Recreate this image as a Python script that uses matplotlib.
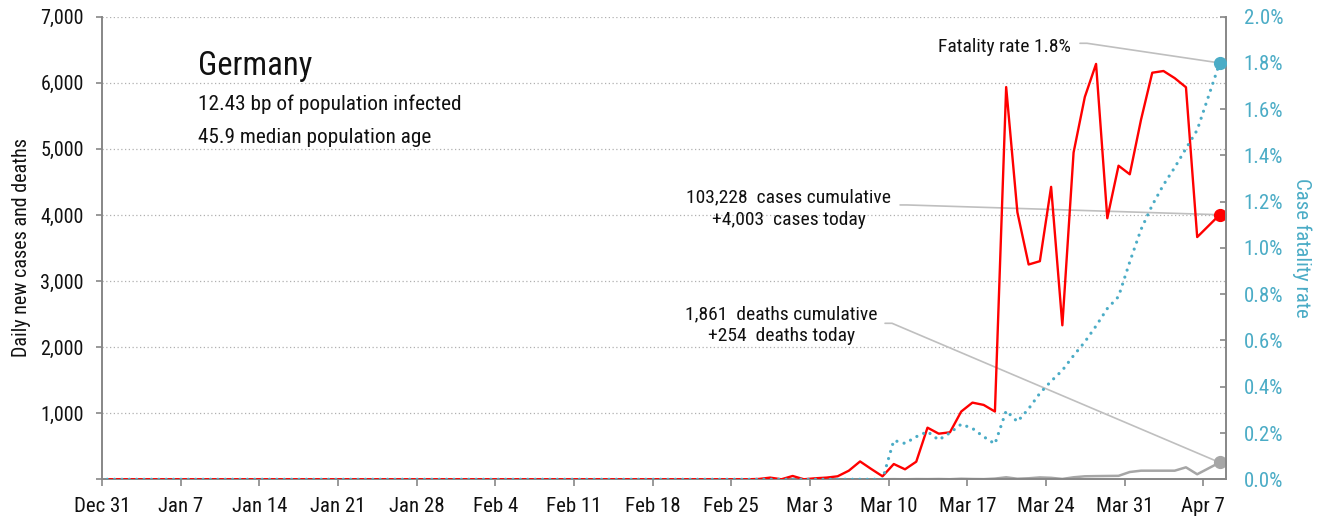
import pandas as pd
import matplotlib
matplotlib.use('Agg')
import matplotlib.pyplot as plt
from matplotlib import font_manager

# pick a narrow sans if one is installed
installed = {f.name for f in font_manager.fontManager.ttflist}
family = 'DejaVu Sans'
for cand in ['Roboto Condensed', 'Liberation Sans Narrow', 'Open Sans Condensed']:
    if cand in installed:
        family = cand
        break
plt.rcParams['font.family'] = family
if family == 'DejaVu Sans':
    plt.rcParams['font.stretch'] = 'condensed'

# daily series Dec 31 .. Apr 6, then Apr 8 (Apr 7 is missing in the source)
dates = list(pd.date_range('2019-12-31', '2020-04-06')) + [pd.Timestamp('2020-04-08')]

cases = [0] * 57 + [0, 5, 25, 0, 50, 0, 15, 25, 45, 130,
                    270, 155, 45, 231, 151, 266, 781, 690, 711, 1025,
                    1160, 1125, 1025, 5935, 4040, 3250, 3300, 4425, 2330, 4945,
                    5785, 6285, 3950, 4745, 4615, 5440, 6152, 6178, 6070, 5932,
                    3665, 4003]
deaths = [0] * 70 + [2, 0, 3, 2, 4, 1, 8, 4, 2, 10,
                     30, 8, 15, 28, 22, 5, 30, 45, 48, 50,
                     52, 110, 130, 130, 130, 130, 181, 76, 254]
cfr = [0.0] * 70 + [0.168, 0.155, 0.184, 0.206, 0.170, 0.201, 0.238, 0.220, 0.184, 0.153,
                    0.296, 0.249, 0.305, 0.372, 0.424, 0.471, 0.535, 0.594, 0.663, 0.738,
                    0.79, 0.94, 1.08, 1.185, 1.273, 1.348, 1.43, 1.51, 1.80]

country = 'Germany'
info = ['12.43 bp of population infected', '45.9 median population age']
cases_note = ['103,228  cases cumulative', '+4,003  cases today']
deaths_note = ['1,861  deaths cumulative', '+254  deaths today']
cfr_note = 'Fatality rate 1.8%'

RED = '#FF0000'
TEAL = '#4BACC6'
GRAY = '#A6A6A6'
AXC = '#878787'
LEAD = '#BFBFBF'
INK = '#111111'

# reports are plotted late in the day
x = pd.DatetimeIndex(dates) + pd.Timedelta(hours=11)

fig = plt.figure(figsize=(13.23, 5.23), dpi=100)
ax = fig.add_axes([0.0771, 0.0836, 0.8494, 0.8845])
ax2 = ax.twinx()

ax.plot(x, cases, color=RED, lw=1.7, zorder=3)
ax.plot(x, deaths, color=GRAY, lw=1.8, zorder=2)
ax2.plot(x, cfr, color=TEAL, lw=2.3, linestyle=(0, (0.01, 2.3)),
         dash_capstyle='round', zorder=3)

# leader lines from the callouts to the last points
lead = dict(arrowstyle='-', color=LEAD, lw=1.2, shrinkA=0, shrinkB=0,
            connectionstyle='arc,angleA=0,armA=7,angleB=0,armB=0,rad=0')
ax2.annotate('', xy=(x[-1], cfr[-1]), xytext=(0.8703, 0.9425),
             textcoords='axes fraction', arrowprops=lead, zorder=2)
ax.annotate('', xy=(x[-1], cases[-1]), xytext=(0.7102, 0.593),
            textcoords='axes fraction', arrowprops=lead, zorder=2.5)
ax.annotate('', xy=(x[-1], deaths[-1]), xytext=(0.6968, 0.3372),
            textcoords='axes fraction', arrowprops=lead, zorder=2.5)

ax.plot(x[-1], cases[-1], 'o', color=RED, ms=8.5, zorder=4)
ax.plot(x[-1], deaths[-1], 'o', color=GRAY, ms=8.5, zorder=4)
ax2.plot(x[-1], cfr[-1], 'o', color=TEAL, ms=8.5, zorder=4)

# axes limits and ticks
ax.set_xlim(pd.Timestamp('2019-12-31'), pd.Timestamp('2020-04-09'))
ax.set_ylim(0, 7000)
ax2.set_ylim(0, 2.0)

xt = pd.date_range('2019-12-31', '2020-04-07', freq='7D')
ax.set_xticks(xt)
ax.set_xticklabels([f'{d:%b} {d.day}' for d in xt])

yt = list(range(0, 7001, 1000))
ax.set_yticks(yt)
ax.set_yticklabels(['' if v == 0 else f'{v:,}' for v in yt])
rt = [i * 0.2 for i in range(11)]
ax2.set_yticks(rt)
ax2.set_yticklabels([f'{v:.1f}%' for v in rt])

ax.grid(axis='y', linestyle=(0, (1, 2)), color='#B0B0B0', lw=0.9)
ax.set_axisbelow(True)

for s in ['top', 'right']:
    ax.spines[s].set_visible(False)
for s in ['top', 'left', 'bottom']:
    ax2.spines[s].set_visible(False)
for s in ['left', 'bottom']:
    ax.spines[s].set_color(AXC)
    ax.spines[s].set_linewidth(1.4)
ax2.spines['right'].set_color(AXC)
ax2.spines['right'].set_linewidth(1.4)

ax.tick_params(axis='x', length=5, width=1.2, color=AXC, pad=8, labelsize=15, labelcolor=INK)
ax.tick_params(axis='y', length=4, width=1.2, color=AXC, pad=9, labelsize=14.5, labelcolor=INK)
ax2.tick_params(axis='y', direction='in', length=4, width=1.2, color=AXC, pad=13,
                labelsize=15, labelcolor=TEAL)

ax.set_ylabel('Daily new cases and deaths', fontsize=14.5, color=INK, labelpad=7)
ax2.set_ylabel('Case fatality rate', fontsize=15, color=TEAL, rotation=270, labelpad=20)

# title block
ax.text(0.0854, 0.874, country, transform=ax.transAxes, fontsize=23.5, color=INK)
ax.text(0.0854, 0.798, info[0], transform=ax.transAxes, fontsize=15.3, color=INK)
ax.text(0.0854, 0.7263, info[1], transform=ax.transAxes, fontsize=15.3, color=INK)

# callouts
ax.text(0.8623, 0.9243, cfr_note, transform=ax.transAxes, ha='right', fontsize=14, color=INK)
ax.text(0.6112, 0.5988, cases_note[0], transform=ax.transAxes, ha='center', fontsize=14, color=INK)
ax.text(0.6112, 0.5497, cases_note[1], transform=ax.transAxes, ha='center', fontsize=14, color=INK)
ax.text(0.6047, 0.3465, deaths_note[0], transform=ax.transAxes, ha='center', fontsize=14, color=INK)
ax.text(0.6047, 0.299, deaths_note[1], transform=ax.transAxes, ha='center', fontsize=14, color=INK)

fig.savefig('out.png', dpi=100)
